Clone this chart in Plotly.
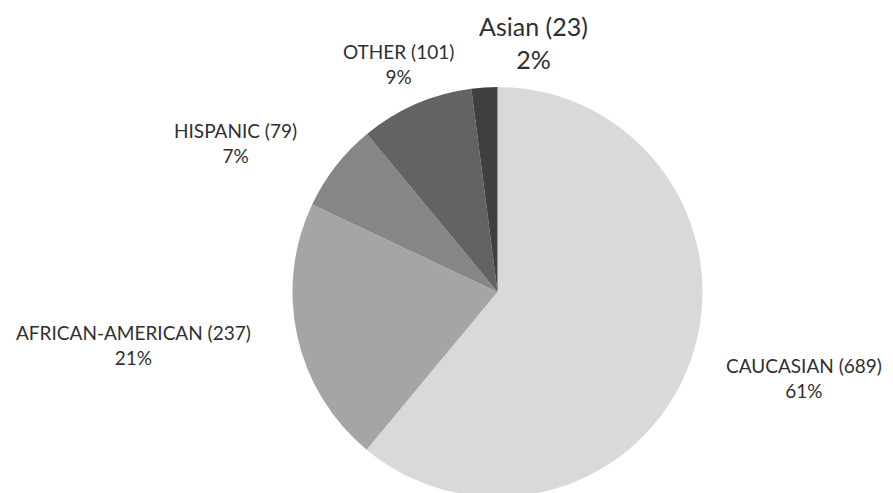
import plotly.graph_objects as go

categories = ["CAUCASIAN", "AFRICAN-AMERICAN", "HISPANIC", "OTHER", "Asian"]
counts = [689, 237, 79, 101, 23]
percent_labels = ["61%", "21%", "7%", "9%", "2%"]
colors = ["#d9d9d9", "#a5a5a5", "#868686", "#636363", "#404040"]

W, H = 893, 493
OFF = 8  # page body margin offset
cx, top, bottom = 497.5 - OFF, 87 - OFF, 497 - OFF
r = (bottom - top) / 2

fig = go.Figure(go.Pie(
    labels=categories,
    values=counts,
    sort=False,
    direction="clockwise",
    rotation=0,
    marker=dict(colors=colors, line=dict(width=0)),
    textinfo="none",
    hoverinfo="label+value+percent",
    showlegend=False,
    domain=dict(x=[(cx - r) / W, (cx + r) / W], y=[1 - bottom / H, 1 - top / H]),
))

# label positions (pixel centres on page), layout only
label_pos = [(804, 378), (133, 345), (236, 143), (398, 64), (533, 43)]
font_sizes = [19, 19, 19, 19, 25]
for name, n, pct, (x, y), fs in zip(categories, counts, percent_labels, label_pos, font_sizes):
    fig.add_annotation(
        x=(x - OFF) / W, y=1 - (y - OFF) / H, xref="paper", yref="paper",
        text=f"{name} ({n})<br>{pct}", showarrow=False,
        font=dict(family="Lato, sans-serif", size=fs, color="#303030"),
        align="center", xanchor="center", yanchor="middle",
    )

fig.update_layout(
    width=W, height=H,
    margin=dict(l=0, r=0, t=0, b=0),
    paper_bgcolor="white", plot_bgcolor="white",
)
fig.write_html("out.html")
